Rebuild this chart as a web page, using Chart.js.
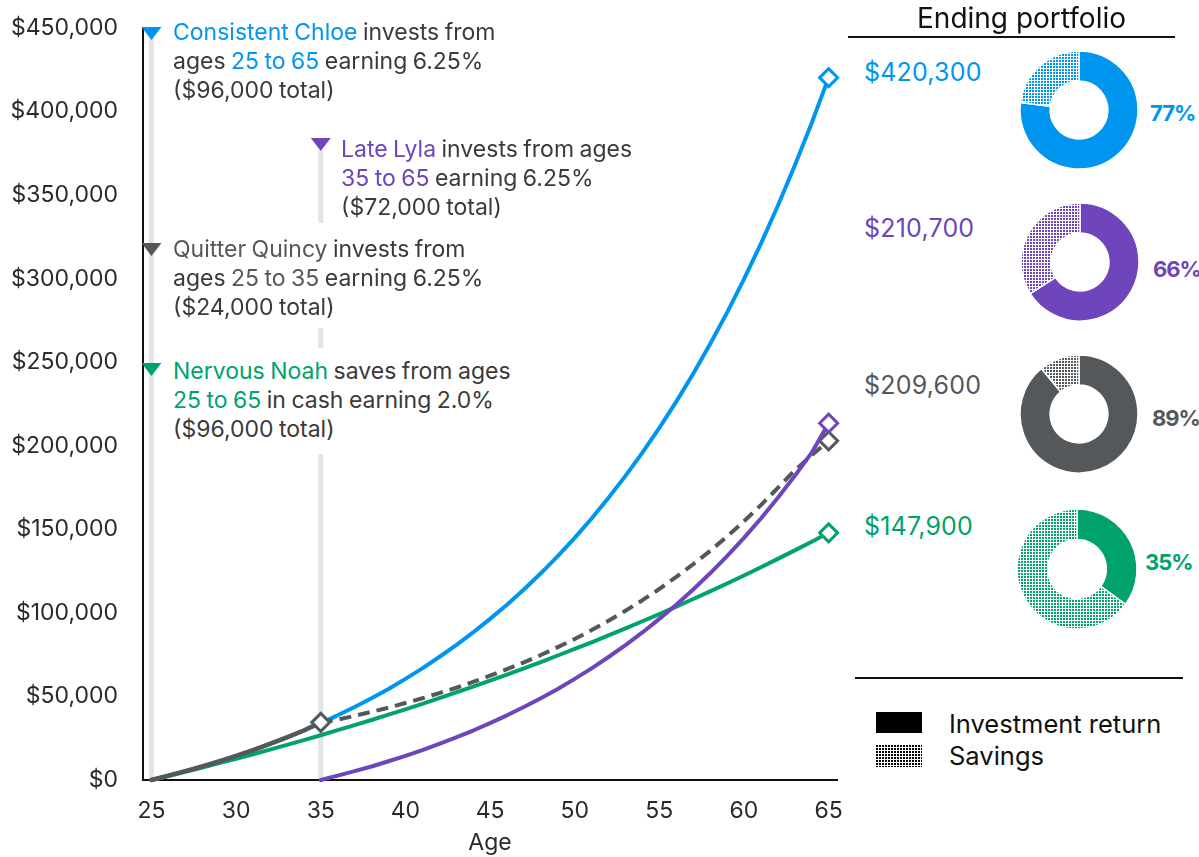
<!DOCTYPE html>
<html>
<head>
<meta charset="utf-8">
<script src="https://cdn.jsdelivr.net/npm/chart.js@4.4.1/dist/chart.umd.min.js"></script>
<style>
html,body{margin:0;padding:0;background:#fff;}
body{width:1199px;height:857px;position:relative;overflow:hidden;font-family:Inter,"Liberation Sans",sans-serif;color:#3a3a3a;}
#main{position:absolute;left:0;top:0;}
.note{position:absolute;font-size:23px;line-height:29px;white-space:nowrap;background:#fff;letter-spacing:0;word-spacing:-1px;}
.blue{color:#0096f0}.purple{color:#6e45ba}.gray{color:#54585b}.green{color:#00a36b}
.val{position:absolute;font-size:25px;line-height:30px;white-space:nowrap;letter-spacing:0.2px;}
.pct{position:absolute;font-size:22px;line-height:26px;font-weight:700;letter-spacing:-1px;white-space:nowrap;}
.donut{position:absolute;}
#title{position:absolute;left:858px;width:327px;top:1px;text-align:center;font-size:28px;line-height:34px;color:#111;}
.rule{position:absolute;height:2px;background:#111;}
.leg{position:absolute;font-size:25.5px;line-height:30px;color:#111;white-space:nowrap;}
.sw{position:absolute;}
</style>
</head>
<body>
<canvas id="main" width="860" height="857"></canvas>

<div class="note" style="left:173px;top:18px;"><span class="blue">Consistent Chloe</span> invests from<br>ages <span class="blue">25 to 65</span> earning 6.25%<br>($96,000 total)</div>
<div class="note" style="left:341px;top:135px;"><span class="purple">Late Lyla</span> invests from ages<br><span class="purple">35 to 65</span> earning 6.25%<br>($72,000 total)</div>
<div class="note" style="left:173px;top:223px;padding:12px 0 6px 0;"><span class="gray">Quitter Quincy</span> invests from<br>ages <span class="gray">25 to 35</span> earning 6.25%<br>($24,000 total)</div>
<div class="note" style="left:173px;top:348px;padding:9px 0 10px 0;"><span class="green">Nervous Noah</span> saves from ages<br><span class="green">25 to 65</span> in cash earning 2.0%<br>($96,000 total)</div>

<div id="title">Ending portfolio</div>
<div class="rule" style="left:848px;width:327px;top:36px;"></div>

<div class="val blue" style="left:864px;top:57px;">$420,300</div>
<div class="val purple" style="left:864px;top:213px;">$210,700</div>
<div class="val gray" style="left:864px;top:370px;">$209,600</div>
<div class="val green" style="left:864px;top:511px;">$147,900</div>

<canvas class="donut" id="d0" width="124" height="124" style="left:1017px;top:48px;"></canvas>
<canvas class="donut" id="d1" width="124" height="124" style="left:1018px;top:200px;"></canvas>
<canvas class="donut" id="d2" width="124" height="124" style="left:1017px;top:352px;"></canvas>
<canvas class="donut" id="d3" width="124" height="124" style="left:1015px;top:507px;"></canvas>

<div class="pct blue" style="left:1150px;top:100px;">77%</div>
<div class="pct purple" style="left:1153px;top:256px;">66%</div>
<div class="pct gray" style="left:1152px;top:405px;">89%</div>
<div class="pct green" style="left:1145px;top:549px;">35%</div>

<div class="rule" style="left:855px;width:328px;top:677px;"></div>
<canvas class="sw" id="sw0" width="46" height="21" style="left:876px;top:712px;"></canvas>
<canvas class="sw" id="sw1" width="46" height="22" style="left:876px;top:745px;"></canvas>
<div class="leg" style="left:949px;top:709px;">Investment return</div>
<div class="leg" style="left:949px;top:741px;">Savings</div>

<script>
// ---------- data ----------
const ages = [25,26,27,28,29,30,31,32,33,34,35,36,37,38,39,40,41,42,43,44,45,46,47,48,49,50,51,52,53,54,55,56,57,58,59,60,61,62,63,64,65];
const chloeValues = [0,2600,5300,8100,11200,14400,17900,21600,25500,29600,34000,38700,43700,48900,54500,60500,66800,73600,80700,88300,96400,104900,114000,123700,134000,144900,156500,168900,182000,195900,210700,226400,243100,260900,279700,299700,321000,343600,367700,393200,420300];
const quincyEarlyAges = [25,26,27,28,29,30,31,32,33,34,35];
const quincyEarlyValues = [0,2600,5300,8100,11200,14400,17900,21600,25500,29600,34500];
const laterAges = [35,36,37,38,39,40,41,42,43,44,45,46,47,48,49,50,51,52,53,54,55,56,57,58,59,60,61,62,63,64,65];
const quincyLateValues = [34500,36100,38400,40800,43300,46100,48900,52000,55200,58700,62400,66300,70400,74800,79500,84400,89700,95300,101300,107600,114300,121500,129100,137100,145700,154800,164500,174800,185300,194300,203000];
const lylaValues = [0,2600,5300,8100,11200,14400,17900,21600,25500,29600,34000,38700,43700,48900,54500,60500,66800,73600,80700,88300,96400,104900,114000,123700,134000,144900,156500,168900,182000,195900,213500];
const noahValues = [0,2400,4900,7500,10100,12700,15400,18200,21000,23900,26800,29800,32800,35900,39100,42300,45600,49000,52400,55900,59500,63100,66800,70600,74500,78400,82400,86500,90700,95000,99300,103700,108300,112900,117600,122400,127300,132300,137400,142600,147900];
const xTicks = [25,30,35,40,45,50,55,60,65];
const yTicks = [0,50000,100000,150000,200000,250000,300000,350000,400000,450000];
const donutReturn = [77,66,89,35];
const donutSavings = [23,34,11,65];

const BLUE='#0096f0', PURPLE='#6e45ba', GRAY='#54585b', GREEN='#00a36b';
const donutColors = [BLUE,PURPLE,GRAY,GREEN];

function pts(xs, ys){ return xs.map((a,i)=>({x:a,y:ys[i]})); }
function endDiamond(n){ return c => c.dataIndex === n-1 ? 9 : 0; }

function lineDs(label, data, color, order, extra){
  return Object.assign({
    label, data, borderColor:color, borderWidth:4, tension:0, fill:false,
    pointStyle:'rectRot', pointRadius:endDiamond(data.length), pointHoverRadius:endDiamond(data.length),
    pointBackgroundColor:'#fff', pointBorderColor:color, pointBorderWidth:3,
    borderCapStyle:'round', borderJoinStyle:'round', order, clip:false
  }, extra||{});
}

// guides + triangles
const guides = [
  {age:25, top:38},
  {age:35, top:150}
];
const triangles = [
  {age:25, top:27, color:BLUE},
  {age:25, top:243, color:GRAY},
  {age:25, top:363, color:GREEN},
  {age:35, top:138, color:PURPLE}
];
const decor = {
  id:'decor',
  beforeDatasetsDraw(chart){
    const {ctx, chartArea, scales:{x}} = chart;
    ctx.save();
    ctx.strokeStyle='#e4e4e6'; ctx.lineWidth=5;
    guides.forEach(g=>{
      const px = x.getPixelForValue(g.age);
      ctx.beginPath(); ctx.moveTo(px, g.top); ctx.lineTo(px, chartArea.bottom-1); ctx.stroke();
    });
    ctx.restore();
  },
  afterDraw(chart){
    const {ctx, scales:{x}} = chart;
    ctx.save();
    triangles.forEach(t=>{
      const px = x.getPixelForValue(t.age);
      ctx.fillStyle=t.color;
      ctx.beginPath(); ctx.moveTo(px-10, t.top); ctx.lineTo(px+10, t.top); ctx.lineTo(px, t.top+13); ctx.closePath(); ctx.fill();
    });
    ctx.restore();
  }
};

const tickFont = {family:'Inter, "Liberation Sans", sans-serif', size:23, weight:'400'};

new Chart(document.getElementById('main'), {
  type:'line',
  data:{ datasets:[
    lineDs('Quitter Quincy (25-35)', pts(quincyEarlyAges, quincyEarlyValues), GRAY, 0, {borderWidth:4.5}),
    lineDs('Late Lyla', pts(laterAges, lylaValues), PURPLE, 1),
    lineDs('Quitter Quincy', pts(laterAges, quincyLateValues), GRAY, 2, {borderDash:[12,7], borderCapStyle:'butt'}),
    lineDs('Consistent Chloe', pts(ages, chloeValues), BLUE, 3),
    lineDs('Nervous Noah', pts(ages, noahValues), GREEN, 4)
  ]},
  options:{
    responsive:false, animation:false, events:[],
    layout:{padding:{left:0, top:28, right:20, bottom:0}},
    plugins:{legend:{display:false}, tooltip:{enabled:false}},
    scales:{
      x:{ type:'linear', min:24.5, max:65.5,
        afterBuildTicks:s=>{ s.ticks = xTicks.map(v=>({value:v})); },
        afterFit:s=>{ s.height = 77; },
        grid:{display:false, drawTicks:false}, border:{display:true, color:'#111', width:2},
        ticks:{font:tickFont, color:'#2a2a2a', padding:17, callback:v=>String(v)},
        title:{display:true, text:'Age', font:tickFont, color:'#2a2a2a', padding:0}
      },
      y:{ min:0, max:450000,
        afterBuildTicks:s=>{ s.ticks = yTicks.map(v=>({value:v})); },
        afterFit:s=>{ s.width = 143; s.paddingTop = 0; s.paddingBottom = 0; },
        grid:{display:false, drawTicks:false}, border:{display:true, color:'#111', width:2},
        ticks:{font:tickFont, color:'#2a2a2a', padding:25, callback:v=>'$'+Number(v).toLocaleString('en-US')}
      }
    }
  },
  plugins:[decor]
});

function hatch(ctx, color){
  const c = document.createElement('canvas'); c.width=3; c.height=3;
  const g = c.getContext('2d');
  g.fillStyle='#fff'; g.fillRect(0,0,3,3);
  g.fillStyle=color; g.fillRect(0,0,2,2);
  return ctx.createPattern(c,'repeat');
}

donutColors.forEach((col,i)=>{
  const cv = document.getElementById('d'+i);
  const pat = hatch(cv.getContext('2d'), col);
  new Chart(cv, {
    type:'doughnut',
    data:{labels:['Investment return','Savings'], datasets:[{data:[donutReturn[i], donutSavings[i]], backgroundColor:[col, pat], borderColor:'#fff', borderWidth:1.5}]},
    options:{responsive:false, animation:false, events:[], radius: i===3?60:59, cutout:30,
      layout:{padding:0}, plugins:{legend:{display:false}, tooltip:{enabled:false}}}
  });
});

// legend swatches
(function(){
  const a = document.getElementById('sw0').getContext('2d');
  a.fillStyle='#000'; a.fillRect(0,0,46,21);
  const b = document.getElementById('sw1').getContext('2d');
  b.fillStyle = hatch(b,'#000'); b.fillRect(0,0,46,22);
})();
</script>
</body>
</html>
